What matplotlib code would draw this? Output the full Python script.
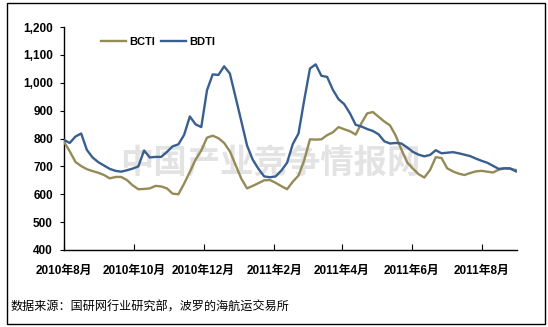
import matplotlib
matplotlib.use("Agg")
import matplotlib.pyplot as plt
import matplotlib.dates as mdates
from matplotlib.ticker import FuncFormatter
from matplotlib.patches import Rectangle
import pandas as pd

plt.rcParams['font.family'] = ['Liberation Sans', 'Noto Sans CJK SC', 'DejaVu Sans']

# ---- data (5-day steps from 2010-08-01) ----
start_date = "2010-08-01"
step = "5D"
bdti = [795, 784, 807, 818, 759, 732, 715, 703, 691, 684,
        681, 686, 692, 700, 757, 732, 734, 734, 752, 772,
        779, 813, 879, 851, 841, 973, 1030, 1028, 1059, 1033,
        948, 862, 775, 724, 691, 664, 661, 664, 685, 713,
        780, 818, 938, 1051, 1066, 1025, 1021, 975, 941, 923,
        890, 849, 843, 834, 827, 815, 790, 782, 784, 782,
        768, 752, 742, 736, 741, 758, 747, 749, 751, 747,
        742, 737, 728, 720, 713, 702, 691, 693, 693, 682]
bcti = [788, 754, 716, 701, 690, 683, 677, 669, 657, 662,
        662, 651, 632, 618, 619, 621, 630, 628, 621, 602,
        600, 638, 680, 724, 757, 803, 810, 801, 784, 754,
        705, 656, 621, 630, 640, 650, 651, 641, 629, 618,
        645, 667, 722, 797, 796, 797, 812, 822, 841, 833,
        826, 814, 855, 890, 895, 878, 861, 847, 810, 760,
        714, 692, 672, 660, 687, 733, 730, 693, 682, 674,
        669, 676, 682, 684, 681, 678, 688, 693, 691, 687]
series_names = ["BCTI", "BDTI"]
y_ticks = [400, 500, 600, 700, 800, 900, 1000, 1100, 1200]
source_text = "数据来源：国研网行业研究部，波罗的海航运交易所"
watermark = "中国产业竞争情报网"

dates = pd.date_range(start_date, periods=len(bdti), freq=step)

W, H = 548, 327
fig = plt.figure(figsize=(W / 100, H / 100), dpi=100)
ax = fig.add_axes([64 / W, (H - 250) / H, (517 - 64) / W, (250 - 27) / H])

c_bcti = "#958B58"
c_bdti = "#3A5F8F"

ax.text(0.455, 0.39, watermark, transform=ax.transAxes, ha="center", va="center",
        fontsize=24, fontweight="bold", color="#E3E3E3", family=["Noto Sans CJK SC"], zorder=0)

ax.plot(dates, bcti, color=c_bcti, lw=1.7, label=series_names[0], zorder=3)
ax.plot(dates, bdti, color=c_bdti, lw=1.7, label=series_names[1], zorder=4)

ax.set_ylim(y_ticks[0], y_ticks[-1])
ax.set_yticks(y_ticks)
ax.yaxis.set_major_formatter(FuncFormatter(lambda v, p: f"{int(v):,}"))
ax.set_xlim(pd.Timestamp("2010-08-01"), pd.Timestamp("2011-09-01"))
ax.xaxis.set_major_locator(mdates.MonthLocator(bymonth=[2, 4, 6, 8, 10, 12]))
ax.xaxis.set_major_formatter(FuncFormatter(
    lambda v, p: f"{mdates.num2date(v).year}年{mdates.num2date(v).month}月"))

for s in ["top", "right"]:
    ax.spines[s].set_visible(False)
for s in ["left", "bottom"]:
    ax.spines[s].set_color("black")
    ax.spines[s].set_linewidth(1.0)

ax.tick_params(axis="y", direction="out", length=3, width=0.8, pad=5, labelsize=8.5)
ax.tick_params(axis="x", direction="in", length=4, width=0.8, pad=11, labelsize=8.5)
for lbl in ax.get_xticklabels() + ax.get_yticklabels():
    lbl.set_fontweight("bold")

leg = fig.legend(loc="center left", bbox_to_anchor=(95 / W, 1 - 42 / H), ncol=2,
                 frameon=False, handlelength=2.3, handletextpad=0.25, columnspacing=0.55,
                 borderpad=0, prop={"weight": "bold", "size": 8})

fig.text(11 / W, 1 - 307 / H, source_text, ha="left", va="center", fontsize=8.7,
         family=["Noto Sans CJK SC"])

fig.patches.append(Rectangle((7 / W, 1 - 324 / H), (545 - 7) / W, (324 - 3) / H,
                             transform=fig.transFigure, fill=False, edgecolor="black", lw=1.0))

fig.savefig("out.png", dpi=100)
